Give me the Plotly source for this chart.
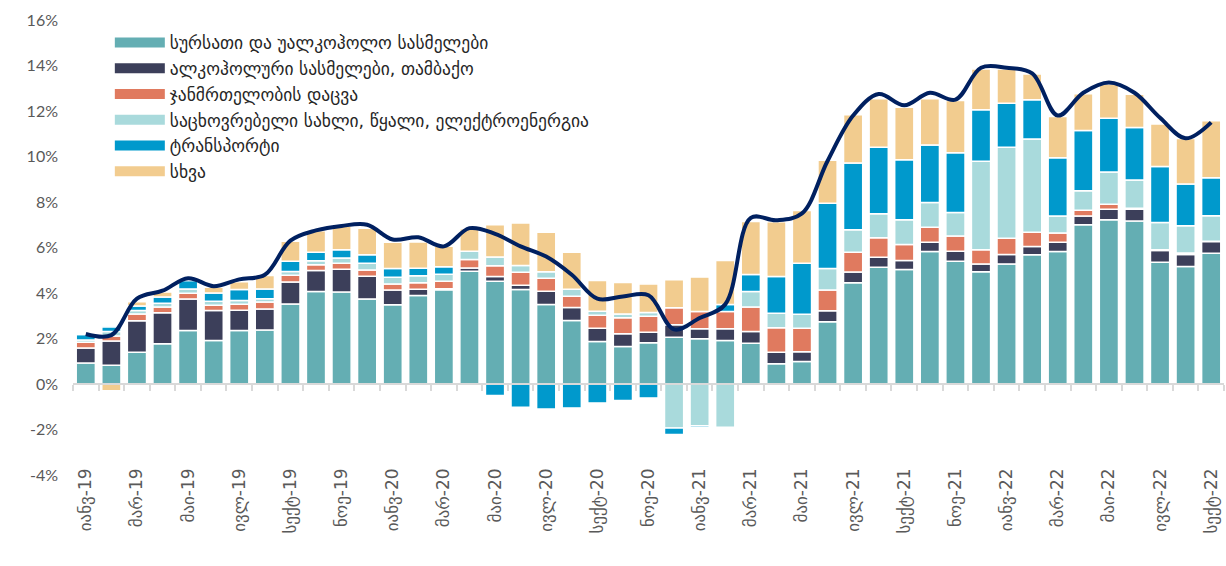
import plotly.graph_objects as go

mnames = ["იანვ", "თებ", "მარ", "აპრ", "მაი", "ივნ", "ივლ", "აგვ", "სექტ", "ოქტ", "ნოე", "დეკ"]
months = [f"{m}-{y}" for y in ["19", "20", "21", "22"] for m in mnames][:45]
tick_labels = months[::2]

series_names = [
    "სურსათი და უალკოჰოლო სასმელები",
    "ალკოჰოლური სასმელები, თამბაქო",
    "ჯანმრთელობის დაცვა",
    "საცხოვრებელი სახლი, წყალი, ელექტროენერგია",
    "ტრანსპორტი",
    "სხვა",
]

food = [0.92, 0.82, 1.40, 1.77, 2.35, 1.91, 2.35, 2.37, 3.52, 4.07, 4.04, 3.74, 3.48, 3.89, 4.14,
        4.96, 4.52, 4.15, 3.49, 2.79, 1.87, 1.65, 1.81, 2.06, 1.99, 1.91, 1.79, 0.89, 0.99, 2.74,
        4.45, 5.13, 5.03, 5.82, 5.40, 4.93, 5.28, 5.68, 5.82, 7.00, 7.22, 7.16, 5.35, 5.16, 5.75]
alcohol = [0.66, 1.07, 1.38, 1.36, 1.39, 1.32, 0.89, 0.93, 0.96, 0.92, 1.00, 1.00, 0.65, 0.27, 0.05,
           0.14, 0.21, 0.19, 0.59, 0.57, 0.58, 0.56, 0.47, 0.54, 0.44, 0.52, 0.52, 0.51, 0.43, 0.48,
           0.47, 0.44, 0.40, 0.41, 0.44, 0.35, 0.41, 0.36, 0.41, 0.38, 0.46, 0.52, 0.52, 0.53, 0.51]
health = [0.25, 0.22, 0.30, 0.25, 0.25, 0.23, 0.27, 0.30, 0.30, 0.25, 0.27, 0.27, 0.27, 0.29, 0.33,
          0.37, 0.47, 0.57, 0.57, 0.50, 0.57, 0.70, 0.70, 0.75, 0.76, 0.76, 1.07, 1.07, 1.03, 0.91,
          0.87, 0.86, 0.70, 0.66, 0.66, 0.62, 0.72, 0.63, 0.41, 0.26, 0.22, 0.04, 0.03, 0.07, 0.02]
housing = [0.10, 0.20, 0.15, 0.17, 0.19, 0.18, 0.16, 0.15, 0.17, 0.18, 0.23, 0.30, 0.29, 0.31, 0.30,
           0.37, 0.38, 0.30, 0.28, 0.31, 0.18, 0.17, 0.16, -1.93, -1.84, -1.90, 0.69, 0.64, 0.62, 0.95,
           0.99, 1.05, 1.09, 1.09, 1.04, 3.89, 4.00, 4.10, 0.75, 0.86, 1.42, 1.25, 1.20, 1.20, 1.12]
transport = [0.25, 0.20, 0.20, 0.27, 0.37, 0.36, 0.48, 0.43, 0.45, 0.37, 0.36, 0.37, 0.39, 0.33, 0.33,
             0.00, -0.50, -1.02, -1.10, -1.05, -0.83, -0.73, -0.61, -0.29, -0.07, 0.31, 0.74, 1.62, 2.24, 2.86,
             2.93, 2.93, 2.64, 2.53, 2.62, 2.26, 1.93, 1.72, 2.55, 2.64, 2.36, 2.31, 2.46, 1.83, 1.67]
other = [0.00, -0.30, 0.18, 0.22, 0.05, 0.25, 0.35, 0.59, 0.88, 0.95, 1.03, 1.17, 1.15, 1.15, 0.91,
         0.98, 1.42, 1.87, 1.74, 1.62, 1.35, 1.38, 1.26, 1.23, 1.51, 1.93, 2.33, 2.40, 2.32, 1.90,
         2.12, 2.13, 2.31, 2.03, 2.30, 1.80, 1.51, 1.14, 1.82, 1.62, 1.51, 1.46, 1.87, 2.00, 2.50]
total = [2.20, 2.15, 3.75, 4.10, 4.65, 4.30, 4.60, 4.80, 6.30, 6.75, 6.95, 7.00, 6.35, 6.45, 6.05,
         6.85, 6.60, 6.05, 5.60, 4.80, 3.75, 3.85, 3.90, 2.40, 2.90, 3.50, 7.30, 7.20, 7.50, 9.80,
         11.80, 12.75, 12.25, 12.80, 12.50, 13.90, 13.90, 13.65, 11.80, 12.80, 13.25, 12.80, 11.70, 10.80, 11.50]

y_ticks = list(range(-4, 17, 2))
y_ticktext = [f"{v}%" for v in y_ticks]

colors = ["#64AEB3", "#3C3F5A", "#E07A5F", "#A9DADC", "#0099CC", "#F2CC8F"]
series = [food, alcohol, health, housing, transport, other]

FONT = "Lato, DejaVu Sans, sans-serif"
GREY = "#595959"

fig = go.Figure()
for name, vals, col in zip(series_names, series, colors):
    fig.add_trace(go.Bar(x=months, y=vals, name=name, marker=dict(color=col, line=dict(color="white", width=1.5)),
                         showlegend=False))
# legend entries (wide swatches)
for name, col in zip(series_names, colors):
    fig.add_trace(go.Scatter(x=[None], y=[None], mode="lines", name=name,
                             line=dict(color=col, width=10), showlegend=True))

fig.add_trace(go.Scatter(x=months, y=total, mode="lines", line=dict(color="#002060", width=4, shape="spline", smoothing=1),
                         showlegend=False, xaxis="x2", yaxis="y"))

fig.update_layout(
    width=1226, height=566,
    margin=dict(l=73, r=2, t=20, b=91),
    barmode="relative", bargap=0.25,
    plot_bgcolor="white", paper_bgcolor="white",
    font=dict(family=FONT, color=GREY),
    legend=dict(x=0.032, y=0.99, xanchor="left", yanchor="top", bgcolor="rgba(0,0,0,0)",
                font=dict(size=17.5, color="#262626", family="DejaVu Sans"), tracegroupgap=0, itemwidth=50),
    xaxis=dict(type="category", categoryorder="array", categoryarray=months, range=[-0.5, 44.5],
               tickmode="array", tickvals=tick_labels, ticktext=tick_labels, tickangle=-90,
               tickfont=dict(size=17, color=GREY, family="DejaVu Sans"), showgrid=False, showline=False, ticks="",
               zeroline=False, ticklabelstandoff=-11),
    xaxis2=dict(type="category", categoryorder="array", categoryarray=months, range=[-0.5, 44.5],
                overlaying="x", anchor="free", position=0.2, side="bottom",
                tickmode="linear", tick0=0, dtick=1, tickson="boundaries", ticks="outside", ticklen=6,
                tickcolor="#D9D9D9", tickwidth=1.5, showticklabels=False, showline=True, linecolor="#D9D9D9",
                linewidth=2, showgrid=False, zeroline=False),
    yaxis=dict(range=[-4, 16], tickmode="array", tickvals=y_ticks, ticktext=y_ticktext, showgrid=False, zeroline=False,
               showline=False, tickfont=dict(size=16, color=GREY), ticklabelstandoff=14),
)

fig.write_html("out.html", config={"displayModeBar": False},
               post_script="document.body.style.margin='0';document.body.style.overflow='hidden';")
